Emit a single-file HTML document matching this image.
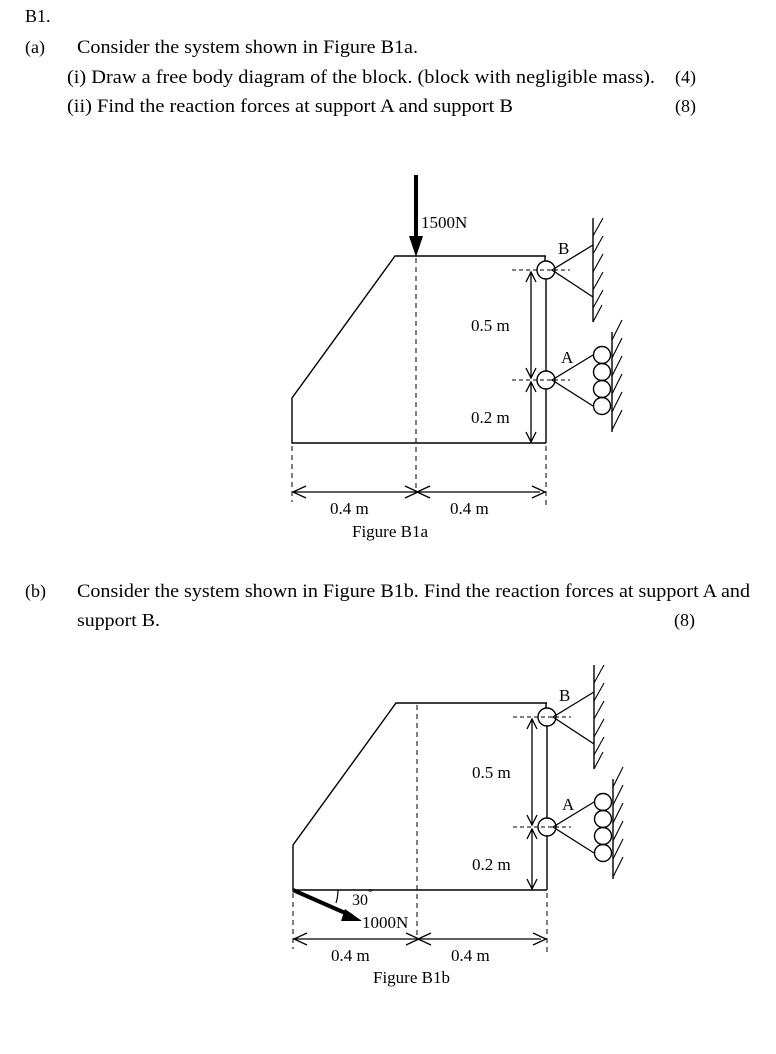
<!DOCTYPE html>
<html><head><meta charset="utf-8"><style>
html,body{margin:0;padding:0;background:#fff;}
svg{display:block;}
text{font-family:"Liberation Serif",serif;fill:#000;}
</style></head><body>
<svg width="776" height="1054" viewBox="0 0 776 1054" xmlns="http://www.w3.org/2000/svg">
<defs>
<g id="sup">
  <circle cx="0" cy="0" r="9" fill="none" stroke="#000" stroke-width="1.4"/>
  <line x1="-34" y1="0" x2="24" y2="0" stroke="#000" stroke-width="1" stroke-dasharray="4,3"/>
  <polyline points="47,-25 6,0 47,27" fill="none" stroke="#000" stroke-width="1.3"/>
  <line x1="47" y1="-52" x2="47" y2="52" stroke="#000" stroke-width="1.4"/>
  <g stroke="#000" stroke-width="1.1">
    <line x1="47" y1="-34" x2="57" y2="-52"/>
    <line x1="47" y1="-16" x2="57" y2="-34"/>
    <line x1="47" y1="2" x2="57" y2="-16"/>
    <line x1="47" y1="20" x2="57" y2="2"/>
    <line x1="47" y1="38" x2="57" y2="20"/>
    <line x1="47" y1="52" x2="56" y2="35"/>
  </g>
  <circle cx="0" cy="110" r="9" fill="none" stroke="#000" stroke-width="1.4"/>
  <line x1="-34" y1="110" x2="24" y2="110" stroke="#000" stroke-width="1" stroke-dasharray="4,3"/>
  <polyline points="47,85 6,110 47,136" fill="none" stroke="#000" stroke-width="1.3"/>
  <g fill="none" stroke="#000" stroke-width="1.4">
    <circle cx="56" cy="85" r="8.5"/>
    <circle cx="56" cy="102" r="8.5"/>
    <circle cx="56" cy="119" r="8.5"/>
    <circle cx="56" cy="136" r="8.5"/>
  </g>
  <line x1="66" y1="62" x2="66" y2="162" stroke="#000" stroke-width="1.4"/>
  <g stroke="#000" stroke-width="1.1">
    <line x1="66" y1="70" x2="76" y2="50"/>
    <line x1="66" y1="88" x2="76" y2="68"/>
    <line x1="66" y1="106" x2="76" y2="86"/>
    <line x1="66" y1="124" x2="76" y2="104"/>
    <line x1="66" y1="142" x2="76" y2="122"/>
    <line x1="66" y1="160" x2="76" y2="140"/>
  </g>
  <text x="12" y="-16" font-size="17">B</text>
  <text x="15" y="93" font-size="17">A</text>
  <line x1="0" y1="9" x2="0" y2="101" stroke="#000" stroke-width="1.4"/>
  <line x1="0" y1="119" x2="0" y2="173" stroke="#000" stroke-width="1.4"/>
  <line x1="-1" y1="-14" x2="-1" y2="-9" stroke="#000" stroke-width="1.4"/>
  <g stroke="#000" stroke-width="1.3" fill="none">
    <line x1="-15" y1="2" x2="-15" y2="108"/>
    <polyline points="-20,12 -15,2 -10,12"/>
    <polyline points="-20,98 -15,108 -10,98"/>
    <line x1="-15" y1="112" x2="-15" y2="172"/>
    <polyline points="-20,122 -15,112 -10,122"/>
    <polyline points="-20,162 -15,172 -10,162"/>
  </g>
  <text x="-75" y="61" font-size="17">0.5 m</text>
  <text x="-75" y="153" font-size="17">0.2 m</text>
  <polyline points="0,-14 -151,-14 -254,128 -254,173 0,173" fill="none" stroke="#000" stroke-width="1.4"/>
  <g stroke="#000" stroke-width="1" stroke-dasharray="5,4">
    <line x1="-254" y1="176" x2="-254" y2="232"/>
    <line x1="0" y1="176" x2="0" y2="237"/>
  </g>
  <g stroke="#000" stroke-width="1.3" fill="none">
    <line x1="-253" y1="222" x2="-6" y2="222"/>
    <polyline points="-240,216 -253,222 -240,228"/>
    <polyline points="-141,216 -128,222 -141,228"/>
    <polyline points="-116,216 -129,222 -116,228"/>
    <polyline points="-14,216 -1,222 -14,228"/>
  </g>
  <text x="-216" y="244" font-size="17">0.4 m</text>
  <text x="-96" y="244" font-size="17">0.4 m</text>
</g>
</defs>

<text x="25" y="22" font-size="18">B1.</text>
<text x="25" y="53" font-size="18">(a)</text>
<text x="77" y="53" font-size="19" textLength="341" lengthAdjust="spacingAndGlyphs">Consider the system shown in Figure B1a.</text>
<text x="67" y="83" font-size="19" textLength="588" lengthAdjust="spacingAndGlyphs">(i) Draw a free body diagram of the block. (block with negligible mass).</text>
<text x="675" y="83" font-size="18">(4)</text>
<text x="67" y="112" font-size="19" textLength="446" lengthAdjust="spacingAndGlyphs">(ii) Find the reaction forces at support A and support B</text>
<text x="675" y="112" font-size="18">(8)</text>

<use href="#sup" x="546" y="270"/>
<line x1="416" y1="258" x2="416" y2="490" stroke="#000" stroke-width="1" stroke-dasharray="5,4"/>
<line x1="416" y1="175" x2="416" y2="240" stroke="#000" stroke-width="4"/>
<polygon points="409,236 423,236 416,257" fill="#000"/>
<text x="421" y="228" font-size="17">1500N</text>
<text x="352" y="537" font-size="17">Figure B1a</text>

<text x="25" y="597" font-size="18">(b)</text>
<text x="77" y="597" font-size="19" textLength="673" lengthAdjust="spacingAndGlyphs">Consider the system shown in Figure B1b. Find the reaction forces at support A and</text>
<text x="77" y="626" font-size="18" textLength="83" lengthAdjust="spacingAndGlyphs">support B.</text>
<text x="674" y="626" font-size="18">(8)</text>

<use href="#sup" x="547" y="717"/>
<line x1="417" y1="705" x2="417" y2="937" stroke="#000" stroke-width="1" stroke-dasharray="5,4"/>
<line x1="293" y1="890" x2="352" y2="916" stroke="#000" stroke-width="4"/>
<polygon points="345,909 362,921 341,921" fill="#000"/>
<path d="M338,890 A44,44 0 0 1 336,903" fill="none" stroke="#000" stroke-width="1.2"/>
<text x="352" y="905" font-size="16">30</text>
<text x="368" y="896" font-size="11">°</text>
<text x="362" y="928" font-size="17">1000N</text>
<text x="373" y="983" font-size="17">Figure B1b</text>
</svg>
</body></html>
